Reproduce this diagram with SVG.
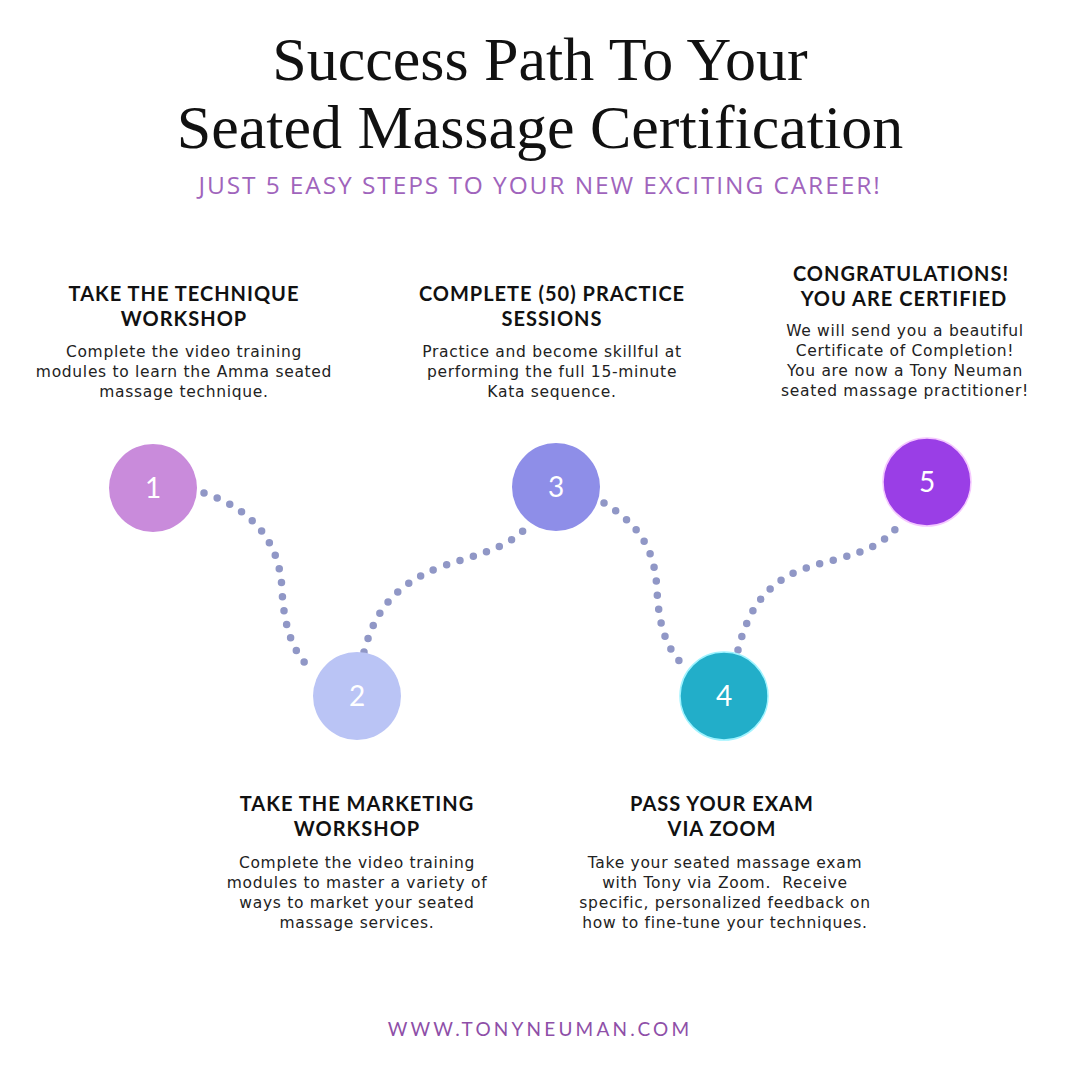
<svg xmlns="http://www.w3.org/2000/svg" width="1080" height="1080" viewBox="0 0 1080 1080">
<style>
.title{font-family:"Liberation Serif","DejaVu Serif",serif;font-size:62px;fill:#111;text-anchor:middle}
.sub{font-family:"Open Sans","Liberation Sans",sans-serif;font-size:24.5px;fill:#A064BC;text-anchor:middle;letter-spacing:1.9px}
.h{font-family:Lato,"Liberation Sans",sans-serif;font-weight:700;font-size:20px;fill:#111;text-anchor:middle;letter-spacing:1px}
.b{font-family:"DejaVu Sans","Liberation Sans",sans-serif;font-size:15.5px;fill:#222;text-anchor:middle;letter-spacing:0.7px}
.num{font-family:Lato,"Liberation Sans",sans-serif;font-size:28px;fill:#fff;text-anchor:middle}
.dot{fill:none;stroke:#9097C6;stroke-width:7.5;stroke-linecap:round;stroke-dasharray:0 14}
.foot{font-family:Lato,"Liberation Sans",sans-serif;font-size:19px;font-weight:400;fill:#8E4FA8;text-anchor:middle;letter-spacing:3.2px}
</style>
<rect width="1080" height="1080" fill="#fff"/>
<g id="header">
<text class="title" x="540" y="80">Success Path To Your</text>
<text class="title" x="540" y="148">Seated Massage Certification</text>
<text class="sub" x="540" y="194">JUST 5 EASY STEPS TO YOUR NEW EXCITING CAREER!</text>
</g>
<g id="connectors">
<path class="dot" d="M204,493 C250,508 280,540 282,590 C284,630 295,655 310,668"/>
<path class="dot" d="M364,652 C375,610 395,585 440,567 C475,555 505,550 527,527"/>
<path class="dot" d="M604,503 C640,525 655,550 657,590 C659,630 668,650 684,666"/>
<path class="dot" d="M738,650 C748,610 765,585 800,570 C840,556 875,555 898,526"/>
</g>
<g id="step1">
<circle cx="153" cy="488" r="44" fill="#C98BDB"/>
<text class="num" x="153" y="498">1</text>
<text class="h" x="184" y="301">TAKE THE TECHNIQUE</text>
<text class="h" x="184" y="326">WORKSHOP</text>
<text class="b" x="184" y="357">Complete the video training</text>
<text class="b" x="184" y="377">modules to learn the Amma seated</text>
<text class="b" x="184" y="397">massage technique.</text>
</g>
<g id="step2">
<circle cx="357" cy="696" r="44" fill="#BAC4F5"/>
<text class="num" x="357" y="706">2</text>
<text class="h" x="357" y="811">TAKE THE MARKETING</text>
<text class="h" x="357" y="836">WORKSHOP</text>
<text class="b" x="357" y="868">Complete the video training</text>
<text class="b" x="357" y="888">modules to master a variety of</text>
<text class="b" x="357" y="908">ways to market your seated</text>
<text class="b" x="357" y="928">massage services.</text>
</g>
<g id="step3">
<circle cx="556" cy="487" r="44" fill="#8E8EE8"/>
<text class="num" x="556" y="497">3</text>
<text class="h" x="552" y="301">COMPLETE (50) PRACTICE</text>
<text class="h" x="552" y="326">SESSIONS</text>
<text class="b" x="552" y="357">Practice and become skillful at</text>
<text class="b" x="552" y="377">performing the full 15-minute</text>
<text class="b" x="552" y="397">Kata sequence.</text>
</g>
<g id="step4">
<circle cx="724" cy="696" r="44" fill="#22AEC9" stroke="#9FF3FF" stroke-width="1.5"/>
<text class="num" x="724" y="706">4</text>
<text class="h" x="722" y="811">PASS YOUR EXAM</text>
<text class="h" x="722" y="836">VIA ZOOM</text>
<text class="b" x="725" y="868">Take your seated massage exam</text>
<text class="b" x="725" y="888" xml:space="preserve">with Tony via Zoom.  Receive</text>
<text class="b" x="725" y="908">specific, personalized feedback on</text>
<text class="b" x="725" y="928">how to fine-tune your techniques.</text>
</g>
<g id="step5">
<circle cx="927" cy="482" r="44" fill="#9A3EE6" stroke="#F5C8FF" stroke-width="1.5"/>
<text class="num" x="927" y="492">5</text>
<text class="h" x="901" y="281">CONGRATULATIONS!</text>
<text class="h" x="904" y="306">YOU ARE CERTIFIED</text>
<text class="b" x="905" y="336">We will send you a beautiful</text>
<text class="b" x="905" y="356">Certificate of Completion!</text>
<text class="b" x="905" y="376">You are now a Tony Neuman</text>
<text class="b" x="905" y="396">seated massage practitioner!</text>
</g>
<g id="footer">
<text class="foot" x="540" y="1036">WWW.TONYNEUMAN.COM</text>
</g>
</svg>
